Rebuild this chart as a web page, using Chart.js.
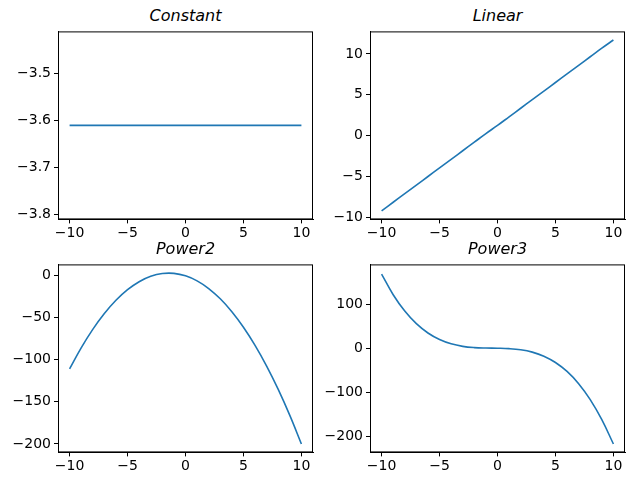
<!DOCTYPE html>
<html><head><meta charset="utf-8">
<script src="https://cdn.jsdelivr.net/npm/chart.js@4"></script>
<style>
body{margin:0;background:#fff;width:635px;height:486px;position:relative;overflow:hidden;font-family:"DejaVu Sans",sans-serif}
.c{position:absolute}
.t{position:absolute;font-style:italic;font-size:16px;text-align:center;width:255px}
</style></head><body>
<script>
const xs=[-10,-9,-8,-7,-6,-5,-4,-3,-2,-1,0,1,2,3,4,5,6,7,8,9,10];
const constantY=[-3.61,-3.61,-3.61,-3.61,-3.61,-3.61,-3.61,-3.61,-3.61,-3.61,-3.61,-3.61,-3.61,-3.61,-3.61,-3.61,-3.61,-3.61,-3.61,-3.61,-3.61];
const linearY=[-9.2,-8.15,-7.1,-6.05,-5.0,-3.95,-2.9,-1.85,-0.8,0.25,1.25,2.3,3.35,4.4,5.45,6.5,7.55,8.6,9.65,10.7,11.7];
const power2Y=[-111,-86.0,-64.1,-45.3,-29.6,-17.0,-7.5,-1.1,2.2,2.4,-0.5,-6.5,-15.6,-27.8,-43.1,-61.5,-83.0,-107.6,-135.3,-166.1,-200];
const power3Y=[168,121.3,84.3,55.7,34.6,19.75,10.0,4.3,1.5,0.44,0,-0.94,-3.5,-8.8,-18.0,-32.3,-52.6,-80.2,-116.3,-161.8,-217];
const titles=['Constant','Linear','Power2','Power3'];
const yTicks=[[-3.5,-3.6,-3.7,-3.8],[10,5,0,-5,-10],[0,-50,-100,-150,-200],[100,0,-100,-200]];
const xTicks=[-10,-5,0,5,10];
const panels=[
 {y:constantY,left:58,top:31,min:-3.81,max:-3.41},
 {y:linearY,left:370,top:31,min:-10.25,max:12.75},
 {y:power2Y,left:58,top:264,min:-210,max:13},
 {y:power3Y,left:370,top:264,min:-236,max:190}];
const AW=255,AH=188,YW=50,XH=30,PR=14;
const fmt=v=>String(v).replace('-','\u2212');
panels.forEach((p,i)=>{
  const t=document.createElement('div');t.className='t';t.textContent=titles[i];
  t.style.left=p.left+'px';t.style.top=(p.top-25)+'px';document.body.appendChild(t);
  const d=document.createElement('div');d.className='c';
  d.style.left=(p.left-YW)+'px';d.style.top=p.top+'px';
  d.style.width=(AW+YW+PR)+'px';d.style.height=(AH+XH)+'px';
  const cv=document.createElement('canvas');d.appendChild(cv);document.body.appendChild(d);
  const tickFont={family:'DejaVu Sans',size:14};
  const ch=new Chart(cv,{type:'line',
    data:{datasets:[{data:xs.map((x,k)=>({x:x,y:p.y[k]})),borderColor:'#1f77b4',borderWidth:1.6,pointRadius:0,tension:0.4,fill:false}]},
    options:{responsive:true,maintainAspectRatio:false,animation:false,
      layout:{padding:{left:0,right:PR,top:0,bottom:0}},
      plugins:{legend:{display:false},tooltip:{enabled:false}},
      scales:{
        x:{type:'linear',min:-11,max:11,
          afterBuildTicks:a=>{a.ticks=xTicks.map(v=>({value:v}));},
          afterFit:a=>{a.height=XH;},
          grid:{drawOnChartArea:false,tickLength:4,color:'#000'},border:{color:'#000',width:1},
          ticks:{color:'#000',font:tickFont,padding:2,maxRotation:0,callback:v=>fmt(v)}},
        y:{type:'linear',min:p.min,max:p.max,
          afterBuildTicks:a=>{a.ticks=yTicks[i].map(v=>({value:v}));},
          afterFit:a=>{a.width=YW;},
          grid:{drawOnChartArea:false,tickLength:4,color:'#000'},border:{color:'#000',width:1},
          ticks:{color:'#000',font:tickFont,padding:3,callback:v=>fmt(v)}}
      }},
    plugins:[{id:'box',afterDraw:c=>{const a=c.chartArea,g=c.ctx;g.save();g.strokeStyle='#000';g.lineWidth=1;g.strokeRect(a.left+0.5,a.top+0.5,a.width-1,a.height-1);g.restore();}}]
  });
  const ca=ch.chartArea;
  const padTop=ca.top, hExtra=AH-(ca.bottom-ca.top), wExtra=AW-(ca.right-ca.left);
  d.style.height=(AH+XH+hExtra)+'px';
  d.style.width=(AW+YW+PR+wExtra)+'px';
  ch.resize();
  const cb=ch.chartArea;
  d.style.top=(p.top-cb.top)+'px';
  d.style.left=(p.left-cb.left)+'px';
});
</script>
</body></html>
